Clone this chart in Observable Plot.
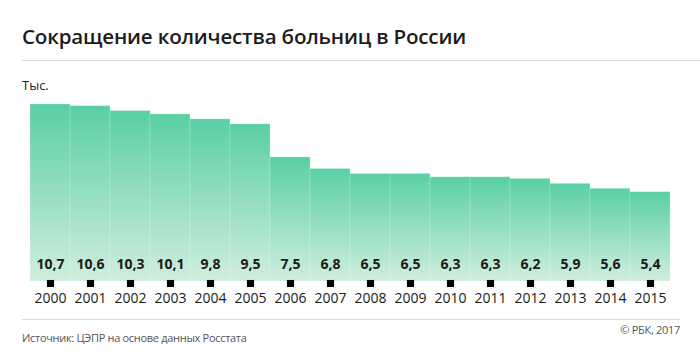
<!DOCTYPE html>
<html><head><meta charset="utf-8">
<script src="https://cdn.jsdelivr.net/npm/d3@7"></script>
<script src="https://cdn.jsdelivr.net/npm/@observablehq/plot@0.6"></script>
<style>
body{margin:0;background:#fff;font-family:"Open Sans",sans-serif;}
#wrap{position:relative;width:700px;height:357px;overflow:hidden;background:#fff;}
#title{position:absolute;left:22px;top:23px;font-size:20.6px;line-height:26px;font-weight:600;color:#1c1c1c;letter-spacing:-0.2px;white-space:nowrap;}
#rule1{position:absolute;left:22px;right:0;top:60px;height:1px;background:#d9d9d9;}
#unit{position:absolute;left:22px;top:77px;font-size:13px;line-height:16px;color:#222;}
#chart{position:absolute;left:0;top:90px;}
#rule2{position:absolute;left:22px;width:658px;top:319px;height:1px;background:#d9d9d9;}
#source{position:absolute;left:22px;top:331px;font-size:11px;line-height:14px;color:#555;white-space:nowrap;letter-spacing:-0.3px;}
#copy{position:absolute;right:20px;top:323px;font-size:11px;line-height:14px;color:#555;white-space:nowrap;letter-spacing:-0.3px;}
</style></head><body>
<div id="wrap">
<div id="title">Сокращение количества больниц в России</div>
<div id="rule1"></div>
<div id="unit">Тыс.</div>
<div id="chart"></div>
<div id="rule2"></div>
<div id="source">Источник: ЦЭПР на основе данных Росстата</div>
<div id="copy">© РБК, 2017</div>
</div>
<script>
const years = ["2000","2001","2002","2003","2004","2005","2006","2007","2008","2009","2010","2011","2012","2013","2014","2015"];
const values = [10.7,10.6,10.3,10.1,9.8,9.5,7.5,6.8,6.5,6.5,6.3,6.3,6.2,5.9,5.6,5.4];
const valueLabels = ["10,7","10,6","10,3","10,1","9,8","9,5","7,5","6,8","6,5","6,5","6,3","6,3","6,2","5,9","5,6","5,4"];

const data = years.map((y, i) => ({year: y, value: values[i], label: valueLabels[i]}));

const chart = Plot.plot({
  width: 700,
  height: 225,
  marginLeft: 24,
  marginRight: 25,
  marginTop: 9,
  marginBottom: 34,
  style: {fontFamily: "'Open Sans', sans-serif", background: "transparent", overflow: "visible"},
  x: {domain: years, padding: 0, label: null, tickSize: 0, tickPadding: 12},
  y: {domain: [0, 11], axis: null},
  marks: [
    Plot.barY(data, {x: "year", y: "value", fill: "url(#barGrad)", stroke: "#ffffff", strokeOpacity: 0.2, strokeWidth: 1}),
    Plot.text(data, {x: "year", y: 0, text: "label", dy: -17, fontSize: 14, fontWeight: 700, fill: "#1a1a1a"}),
    Plot.dot(data, {x: "year", y: 0, symbol: "square", r: 4, fill: "#000", stroke: "none", dy: 2}),
    Plot.axisX({tickSize: 0, tickPadding: 12, fontSize: 14, color: "#1a1a1a", label: null})
  ]
});

const svg = d3.select(chart);
const defs = svg.insert("defs", ":first-child");
const g = defs.append("linearGradient").attr("id", "barGrad").attr("x1", 0).attr("y1", 0).attr("x2", 0).attr("y2", 1);
g.append("stop").attr("offset", "0%").attr("stop-color", "#5acfa4");
g.append("stop").attr("offset", "100%").attr("stop-color", "#d0eedd");

document.getElementById("chart").appendChild(chart);
</script>
</body></html>
